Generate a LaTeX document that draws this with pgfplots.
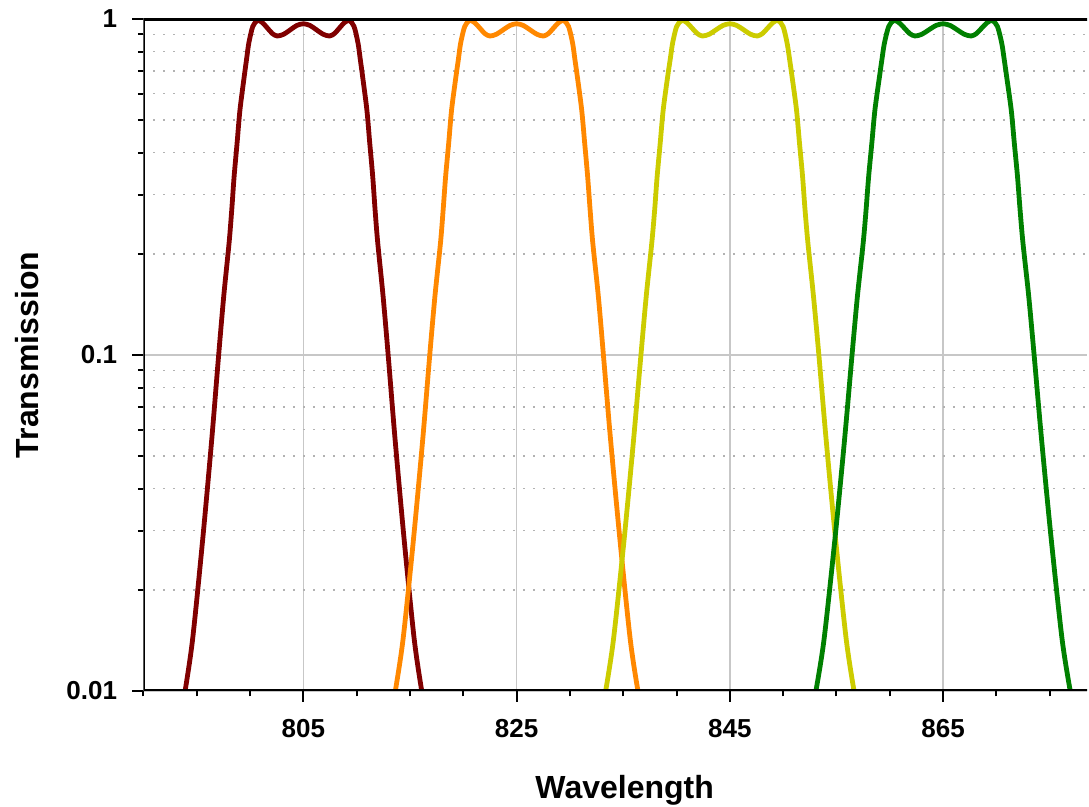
\documentclass[border=0pt]{standalone}
\usepackage{fontspec}
\setmainfont{Liberation Sans}
\usepackage{pgfplots}
\pgfplotsset{compat=1.18}

\definecolor{cRed}{RGB}{128,0,0}
\definecolor{cOrange}{RGB}{255,136,0}
\definecolor{cYellow}{RGB}{204,204,0}
\definecolor{cGreen}{RGB}{0,128,0}

\begin{document}
\begin{tikzpicture}
  \path[use as bounding box] (0,0) rectangle (544.5pt,403.5pt);
  \begin{axis}[
    at={(71.75pt,58pt)}, anchor=south west,
    scale only axis,
    width=471.75pt, height=336pt,
    ymode=log,
    xmin=790, xmax=878.5,
    ymin=0.01, ymax=1,
    xtick={805,825,845,865},
    xticklabels={805,825,845,865},
    minor xtick={790,795,800,810,815,820,830,835,840,850,855,860,870,875},
    ytick={0.01,0.1,1},
    yticklabels={0.01,0.1,1},
    minor ytick={0.02,0.03,0.04,0.05,0.06,0.07,0.08,0.09,0.2,0.3,0.4,0.5,0.6,0.7,0.8,0.9},
    xmajorgrids, ymajorgrids, yminorgrids,
    major grid style={color=black!22, line width=0.75pt},
    minor grid style={color=black!30, line width=0.7pt, dash pattern=on 0.6pt off 4.4pt},
    axis line style={draw=none},
    tick align=outside,
    xtick pos=left, ytick pos=left,
    major tick length=5.5pt, minor tick length=2.75pt,
    every tick/.style={black, line width=1pt},
    ticklabel style={font=\fontsize{13}{15}\selectfont\bfseries},
    xticklabel style={anchor=north, inner sep=0pt, yshift=-8.5pt},
    yticklabel style={anchor=east, inner sep=0pt, xshift=-7.5pt},
    xlabel={Wavelength},
    ylabel={Transmission},
    label style={font=\fontsize{16}{18}\selectfont\bfseries},
    xlabel style={at={(axis description cs:0.51,0)}, anchor=north, inner sep=0pt, yshift=-42pt},
    ylabel style={at={(axis description cs:-0.1229,0.5)}, anchor=center, inner sep=0pt},
    every axis plot/.append style={line width=2.4pt, smooth, no marks},
    clip=true,
  ]
    \addplot[cRed] coordinates {
      (793.90,0.01) (794.60,0.0142) (795.55,0.0282) (796.40,0.056) (797.05,0.1)
      (797.53,0.15) (798.03,0.216) (798.28,0.271) (798.50,0.34) (798.78,0.428)
      (799.05,0.537) (799.45,0.675) (799.67,0.76) (799.88,0.848) (800.25,0.95)
      (800.70,0.99) (801.16,0.975) (801.62,0.94) (802.09,0.905) (802.55,0.89)
      (803.16,0.901) (803.78,0.929) (804.39,0.957) (805.00,0.968)
      (805.61,0.957) (806.22,0.929) (806.84,0.901) (807.45,0.89)
      (807.91,0.905) (808.38,0.94) (808.84,0.975) (809.30,0.99)
      (809.75,0.95) (810.12,0.848) (810.33,0.76) (810.55,0.675) (810.95,0.537)
      (811.22,0.428) (811.50,0.34) (811.72,0.271) (811.97,0.216) (812.47,0.15)
      (812.95,0.1) (813.60,0.056) (814.45,0.0282) (815.40,0.0142) (816.10,0.01)
    };
    \addplot[cOrange] coordinates {
      (813.62,0.01) (814.34,0.0142) (815.32,0.0282) (816.19,0.056) (816.85,0.1)
      (817.34,0.15) (817.86,0.216) (818.11,0.271) (818.34,0.34) (818.63,0.428)
      (818.90,0.537) (819.31,0.675) (819.54,0.76) (819.75,0.848) (820.13,0.95)
      (820.59,0.99) (821.07,0.975) (821.54,0.94) (822.02,0.905) (822.49,0.89)
      (823.11,0.901) (823.75,0.929) (824.38,0.957) (825.00,0.968)
      (825.62,0.957) (826.25,0.929) (826.89,0.901) (827.51,0.89)
      (827.98,0.905) (828.46,0.94) (828.93,0.975) (829.41,0.99)
      (829.87,0.95) (830.25,0.848) (830.46,0.76) (830.69,0.675) (831.10,0.537)
      (831.38,0.428) (831.66,0.34) (831.89,0.271) (832.14,0.216) (832.66,0.15)
      (833.14,0.1) (833.81,0.056) (834.69,0.0282) (835.66,0.0142) (836.38,0.01)
    };
    \addplot[cYellow] coordinates {
      (833.35,0.01) (834.08,0.0142) (835.08,0.0282) (835.97,0.056) (836.66,0.1)
      (837.16,0.15) (837.68,0.216) (837.95,0.271) (838.18,0.34) (838.47,0.428)
      (838.75,0.537) (839.17,0.675) (839.41,0.76) (839.63,0.848) (840.01,0.95)
      (840.49,0.99) (840.97,0.975) (841.45,0.94) (841.95,0.905) (842.43,0.89)
      (843.07,0.901) (843.71,0.929) (844.36,0.957) (845.00,0.968)
      (845.64,0.957) (846.29,0.929) (846.93,0.901) (847.57,0.89)
      (848.05,0.905) (848.55,0.94) (849.03,0.975) (849.51,0.99)
      (849.99,0.95) (850.37,0.848) (850.60,0.76) (850.83,0.675) (851.25,0.537)
      (851.53,0.428) (851.82,0.34) (852.05,0.271) (852.32,0.216) (852.84,0.15)
      (853.35,0.1) (854.03,0.056) (854.92,0.0282) (855.92,0.0142) (856.65,0.01)
    };
    \addplot[cGreen] coordinates {
      (853.07,0.01) (853.83,0.0142) (854.85,0.0282) (855.76,0.056) (856.46,0.1)
      (856.97,0.15) (857.51,0.216) (857.78,0.271) (858.02,0.34) (858.32,0.428)
      (858.61,0.537) (859.04,0.675) (859.27,0.76) (859.50,0.848) (859.90,0.95)
      (860.38,0.99) (860.87,0.975) (861.37,0.94) (861.87,0.905) (862.37,0.89)
      (863.02,0.901) (863.68,0.929) (864.35,0.957) (865.00,0.968)
      (865.65,0.957) (866.32,0.929) (866.98,0.901) (867.63,0.89)
      (868.13,0.905) (868.63,0.94) (869.13,0.975) (869.62,0.99)
      (870.10,0.95) (870.50,0.848) (870.73,0.76) (870.96,0.675) (871.39,0.537)
      (871.68,0.428) (871.98,0.34) (872.22,0.271) (872.49,0.216) (873.03,0.15)
      (873.54,0.1) (874.24,0.056) (875.15,0.0282) (876.17,0.0142) (876.93,0.01)
    };
    \draw[black, line width=1.75pt, line cap=rect]
      (rel axis cs:1,1) -- (rel axis cs:0,1) -- (rel axis cs:0,0) -- (rel axis cs:1,0);
  \end{axis}
\end{tikzpicture}
\end{document}
